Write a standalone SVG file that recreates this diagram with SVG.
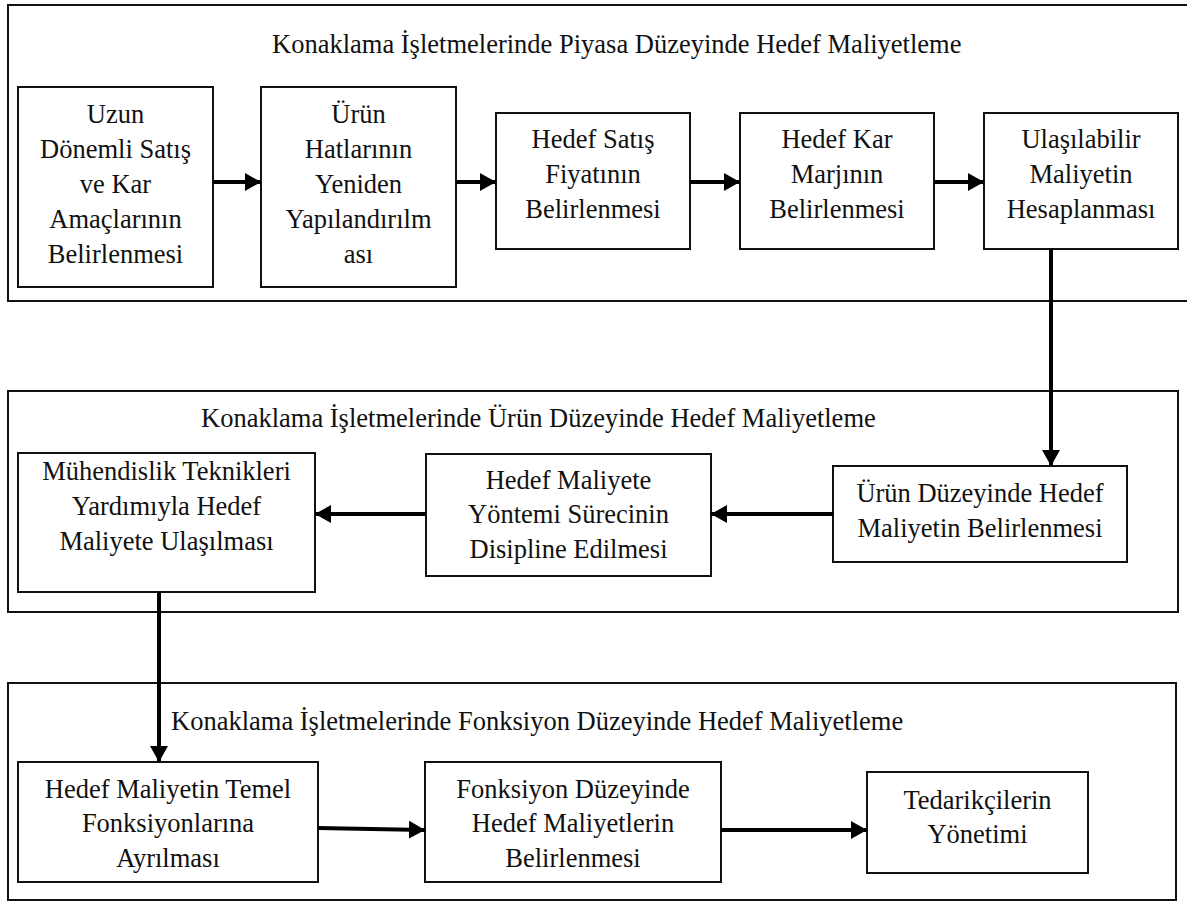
<svg xmlns="http://www.w3.org/2000/svg" width="1187" height="902" viewBox="0 0 1187 902">
  <style>
    .frame { fill: none; stroke: #111; stroke-width: 2; }
    .box { fill: #fff; stroke: #111; stroke-width: 2; }
    .lbl { font-family: "Liberation Serif", "Times New Roman", serif; font-size: 26.5px; fill: #111; }
    .mid { text-anchor: middle; }
    .conn { fill: none; stroke: #000; stroke-width: 4; }
  </style>
  <defs>
    <marker id="head" markerUnits="userSpaceOnUse" markerWidth="16" markerHeight="18" viewBox="0 0 16 18" refX="16" refY="9" orient="auto">
      <path d="M0,0 L16,9 L0,18 Z" fill="#000"/>
    </marker>
  </defs>
  <rect width="1187" height="902" fill="#fff"/>

  <!-- Level frames -->
  <g id="frame-piyasa">
    <path class="frame" d="M1187,5 H8 V301 H1187"/>
    <text class="lbl" x="272" y="53">Konaklama İşletmelerinde Piyasa Düzeyinde Hedef Maliyetleme</text>
  </g>
  <g id="frame-urun">
    <rect class="frame" x="8" y="391" width="1170" height="221"/>
    <text class="lbl" x="201" y="427">Konaklama İşletmelerinde Ürün Düzeyinde Hedef Maliyetleme</text>
  </g>
  <g id="frame-fonksiyon">
    <rect class="frame" x="8" y="683" width="1168" height="217"/>
    <text class="lbl" x="171" y="730">Konaklama İşletmelerinde Fonksiyon Düzeyinde Hedef Maliyetleme</text>
  </g>

  <!-- Market level steps -->
  <g id="n-uzun-donemli">
    <rect class="box" x="18" y="87" width="195" height="200"/>
    <text class="lbl mid" x="115.5" y="123">Uzun</text>
    <text class="lbl mid" x="115.5" y="158">Dönemli Satış</text>
    <text class="lbl mid" x="115.5" y="193">ve Kar</text>
    <text class="lbl mid" x="115.5" y="228">Amaçlarının</text>
    <text class="lbl mid" x="115.5" y="263">Belirlenmesi</text>
  </g>
  <g id="n-urun-hatlari">
    <rect class="box" x="261" y="87" width="195" height="200"/>
    <text class="lbl mid" x="358.5" y="123">Ürün</text>
    <text class="lbl mid" x="358.5" y="158">Hatlarının</text>
    <text class="lbl mid" x="358.5" y="193">Yeniden</text>
    <text class="lbl mid" x="358.5" y="228">Yapılandırılm</text>
    <text class="lbl mid" x="358.5" y="263">ası</text>
  </g>
  <g id="n-satis-fiyati">
    <rect class="box" x="496" y="113" width="194" height="136"/>
    <text class="lbl mid" x="593" y="148">Hedef Satış</text>
    <text class="lbl mid" x="593" y="183">Fiyatının</text>
    <text class="lbl mid" x="593" y="218">Belirlenmesi</text>
  </g>
  <g id="n-kar-marji">
    <rect class="box" x="740" y="113" width="194" height="136"/>
    <text class="lbl mid" x="837" y="148">Hedef Kar</text>
    <text class="lbl mid" x="837" y="183">Marjının</text>
    <text class="lbl mid" x="837" y="218">Belirlenmesi</text>
  </g>
  <g id="n-ulasilabilir">
    <rect class="box" x="984" y="113" width="194" height="136"/>
    <text class="lbl mid" x="1081" y="148">Ulaşılabilir</text>
    <text class="lbl mid" x="1081" y="183">Maliyetin</text>
    <text class="lbl mid" x="1081" y="218">Hesaplanması</text>
  </g>

  <!-- Product level steps -->
  <g id="n-urun-duzeyi">
    <rect class="box" x="833" y="466" width="294" height="96"/>
    <text class="lbl mid" x="980" y="502">Ürün Düzeyinde Hedef</text>
    <text class="lbl mid" x="980" y="537">Maliyetin Belirlenmesi</text>
  </g>
  <g id="n-disiplin">
    <rect class="box" x="426" y="454" width="285" height="122"/>
    <text class="lbl mid" x="568.5" y="489">Hedef Maliyete</text>
    <text class="lbl mid" x="568.5" y="523">Yöntemi Sürecinin</text>
    <text class="lbl mid" x="568.5" y="558">Disipline Edilmesi</text>
  </g>
  <g id="n-muhendislik">
    <rect class="box" x="18" y="453" width="297" height="139"/>
    <text class="lbl mid" x="166.5" y="480">Mühendislik Teknikleri</text>
    <text class="lbl mid" x="166.5" y="515">Yardımıyla Hedef</text>
    <text class="lbl mid" x="166.5" y="550">Maliyete Ulaşılması</text>
  </g>

  <!-- Function level steps -->
  <g id="n-temel-fonksiyon">
    <rect class="box" x="18" y="762" width="300" height="120"/>
    <text class="lbl mid" x="168" y="798">Hedef Maliyetin Temel</text>
    <text class="lbl mid" x="168" y="832">Fonksiyonlarına</text>
    <text class="lbl mid" x="168" y="867">Ayrılması</text>
  </g>
  <g id="n-fonksiyon-duzeyi">
    <rect class="box" x="425" y="762" width="296" height="120"/>
    <text class="lbl mid" x="573" y="798">Fonksiyon Düzeyinde</text>
    <text class="lbl mid" x="573" y="832">Hedef Maliyetlerin</text>
    <text class="lbl mid" x="573" y="867">Belirlenmesi</text>
  </g>
  <g id="n-tedarikci">
    <rect class="box" x="867" y="772" width="221" height="101"/>
    <text class="lbl mid" x="977.5" y="809">Tedarikçilerin</text>
    <text class="lbl mid" x="977.5" y="843">Yönetimi</text>
  </g>

  <!-- Connectors -->
  <g id="connectors">
    <line class="conn" x1="213" y1="182" x2="261" y2="182" marker-end="url(#head)"/>
    <line class="conn" x1="456" y1="182" x2="496" y2="182" marker-end="url(#head)"/>
    <line class="conn" x1="690" y1="182" x2="740" y2="182" marker-end="url(#head)"/>
    <line class="conn" x1="934" y1="182" x2="984" y2="182" marker-end="url(#head)"/>
    <line class="conn" x1="1051" y1="249" x2="1051" y2="466" marker-end="url(#head)"/>
    <line class="conn" x1="833" y1="514" x2="711" y2="514" marker-end="url(#head)"/>
    <line class="conn" x1="426" y1="514" x2="315" y2="514" marker-end="url(#head)"/>
    <line class="conn" x1="159" y1="592" x2="159" y2="762" marker-end="url(#head)"/>
    <line class="conn" x1="318" y1="828" x2="425" y2="830" marker-end="url(#head)"/>
    <line class="conn" x1="721" y1="830" x2="867" y2="830" marker-end="url(#head)"/>
  </g>
</svg>
